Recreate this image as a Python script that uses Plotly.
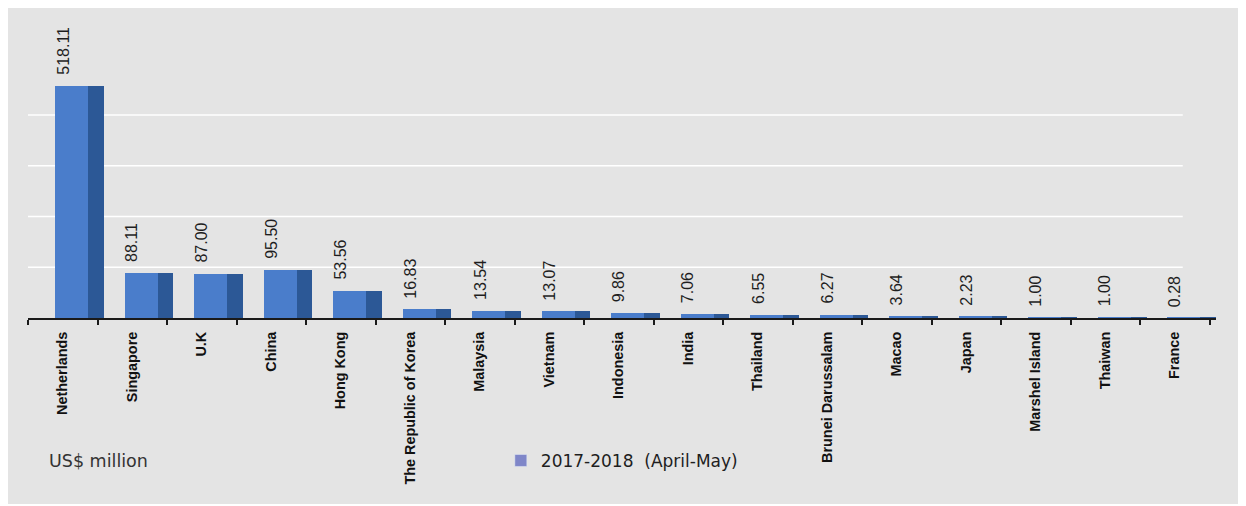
import plotly.graph_objects as go

categories = ["Netherlands", "Singapore", "U.K", "China", "Hong Kong", "The Republic of Korea",
              "Malaysia", "Vietnam", "Indonesia", "India", "Thailand", "Brunei Darussalam",
              "Macao", "Japan", "Marshel Island", "Thaiwan", "France"]
values = [518.11, 88.11, 87.00, 95.50, 53.56, 16.83, 13.54, 13.07, 9.86, 7.06, 6.55, 6.27,
          3.64, 2.23, 1.00, 1.00, 0.28]
series_name = "2017-2018 \u00a0(April-May)"
grid_values = [100, 200, 300, 400]
y_max = 457

fig = go.Figure()

# side face (darker) of the pseudo-3D bars
fig.add_trace(go.Bar(x=categories, y=values, width=0.229, offset=0.364,
                     marker=dict(color="#2c5896", line=dict(width=0)),
                     showlegend=False, hoverinfo="skip"))
# front face
fig.add_trace(go.Bar(x=categories, y=values, width=0.471, offset=-0.107,
                     marker=dict(color="#4a7dcb", line=dict(width=0)),
                     showlegend=False))
# legend entry
fig.add_trace(go.Bar(x=[categories[0]], y=[None], name=series_name,
                     marker=dict(color="#7f86c8"), showlegend=True))

annotations = []
for c, v in zip(categories, values):
    annotations.append(dict(x=c, y=min(v, y_max), xref="x", yref="y", text=f"{v:.2f}",
                            textangle=-90, showarrow=False, xanchor="center", yanchor="bottom",
                            yshift=9, font=dict(family="Liberation Sans, Arial", size=16, color="#1e1e1e")))
annotations.append(dict(x=0.016, y=-0.616, xref="paper", yref="paper", text="US$ million",
                        showarrow=False, xanchor="left", yanchor="middle",
                        font=dict(family="DejaVu Sans", size=17.5, color="#333333")))

shapes = []
for g in grid_values:
    shapes.append(dict(type="line", xref="paper", yref="y", x0=0, x1=0.972, y0=g, y1=g,
                       line=dict(color="#ffffff", width=1.6), layer="below"))

fig.update_layout(
    width=1230, height=496,
    margin=dict(l=20, r=22, t=78, b=186),
    paper_bgcolor="#e4e4e4", plot_bgcolor="rgba(0,0,0,0)",
    barmode="overlay", bargap=0,
    showlegend=True,
    legend=dict(orientation="h", x=0.398, xanchor="left", y=-0.616, yanchor="middle",
                bgcolor="rgba(0,0,0,0)",
                font=dict(family="DejaVu Sans", size=17, color="#1e1e1e")),
    annotations=annotations, shapes=shapes,
    xaxis=dict(showline=True, linecolor="#1a1a1a", linewidth=2, ticks="outside",
               tickson="boundaries", ticklen=5, tickwidth=1.5, tickcolor="#1a1a1a",
               tickangle=-90, ticklabelstandoff=6, showgrid=False,
               tickfont=dict(family="Liberation Sans, Arial", size=14.4, color="#111111", weight="bold")),
    yaxis=dict(range=[0, y_max], showgrid=False, showticklabels=False, zeroline=False,
               showline=False, ticks=""),
)

fig.write_html("out.html")
